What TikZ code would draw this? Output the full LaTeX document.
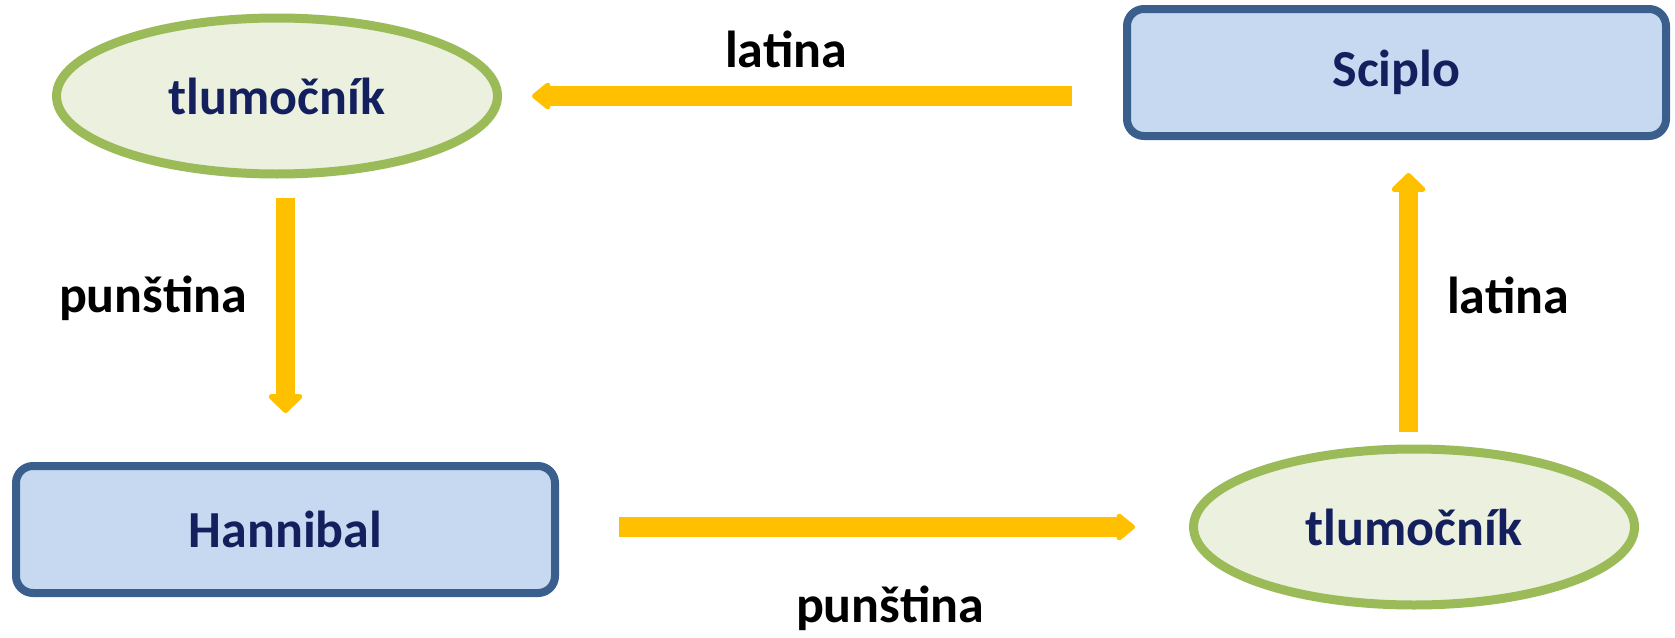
\documentclass[tikz,border=0pt]{standalone}
\usepackage{fontspec}
\setmainfont{Carlito}
\usetikzlibrary{arrows.meta,shapes.geometric,calc}
\definecolor{boxfill}{HTML}{C6D9F1}
\definecolor{boxline}{HTML}{3A5F8C}
\definecolor{ellfill}{HTML}{EBF1DE}
\definecolor{ellline}{HTML}{9BBB59}
\definecolor{arrcol}{HTML}{FFC000}
\definecolor{nodetext}{HTML}{14205E}
\tikzset{
  person/.style={draw=boxline, fill=boxfill, line width=8pt, rounded corners=17pt,
    minimum width=539pt, minimum height=127pt, inner sep=0pt,
    text=nodetext, font=\fontsize{52}{60}\selectfont\bfseries},
  interp/.style={ellipse, draw=ellline, fill=ellfill, line width=9pt,
    minimum width=441pt, minimum height=156pt, inner sep=0pt,
    text=nodetext, font=\fontsize{52}{60}\selectfont\bfseries},
  lang/.style={anchor=base, inner sep=0pt, text=black, font=\fontsize{52}{60}\selectfont\bfseries},
  harrow/.style={draw=arrcol, line width=20pt, line cap=butt,
    -{Triangle[length=20pt, width=31pt, round]}},
  varrow/.style={draw=arrcol, line width=19pt, line cap=butt,
    -{Triangle[length=20pt, width=40pt, round]}}
}
\begin{document}
\begin{tikzpicture}[x=1pt, y=-1pt]
\useasboundingbox (0,0) rectangle (1675,637);
\node[interp] (tl) at (277,96) {tlumočník};
\node[person] (sc) at (1396.5,72.5) {Sciplo};
\node[person] (hb) at (285.5,529.5) {Hannibal};
\node[interp] (br) at (1414,527) {tlumočník};

\draw[harrow, shorten <=51pt, shorten >=30pt] (sc.west |- tl.east) -- (tl.east);
\draw[varrow, shorten <=19pt, shorten >=49pt] (hb.north |- tl.south) -- (hb.north);
\draw[harrow, shorten <=60pt, shorten >=54pt] ($(hb.east)+(0,-2.5)$) -- ($(br.west |- hb.east)+(0,-2.5)$);
\draw[varrow, shorten <=13pt, shorten >=33pt] ($(br.north)+(-5.5,0)$) -- ($(br.north |- sc.south)+(-5.5,0)$);

\node[lang] (l1) at (786,67) {latina};
\node[lang] (l2) at (153,312) {punština};
\node[lang] (l3) at (1508,313) {latina};
\node[lang] (l4) at (890,622) {punština};
\end{tikzpicture}
\end{document}
